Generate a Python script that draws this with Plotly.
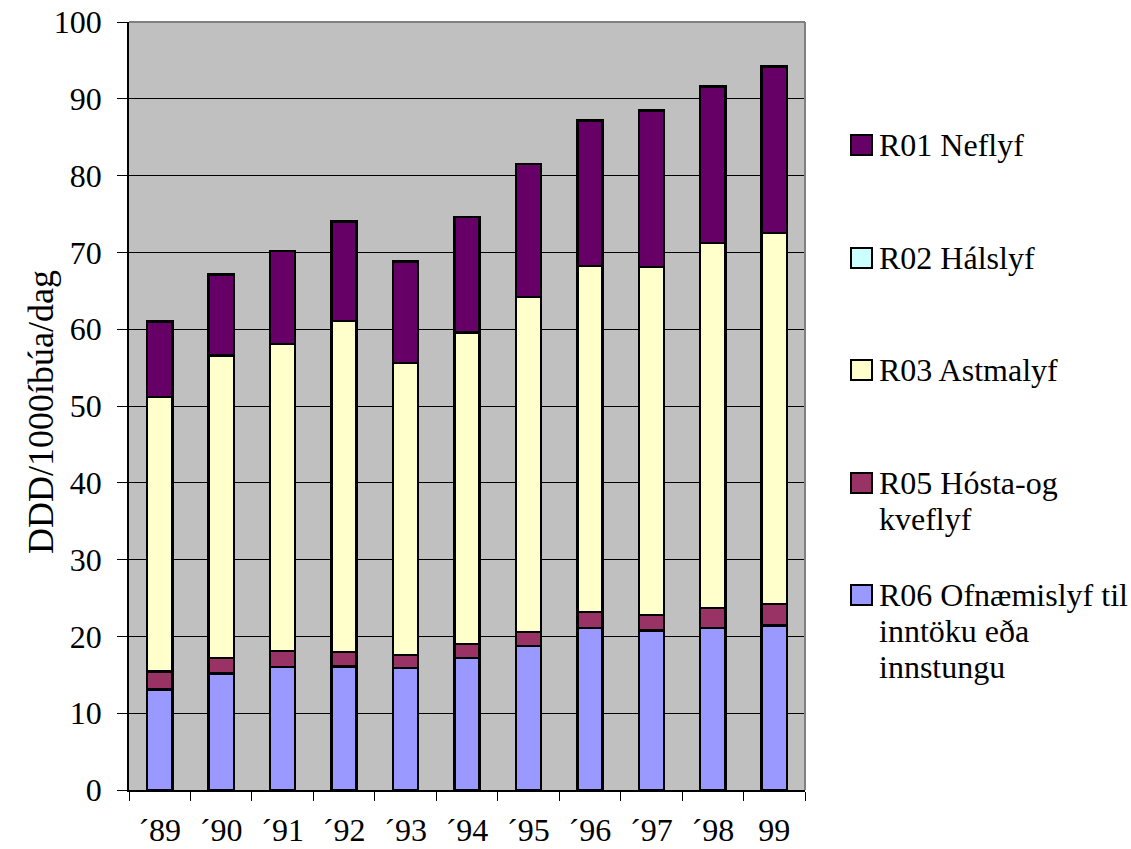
import plotly.graph_objects as go

# Respiratory drug use (DDD per 1000 inhabitants per day), stacked by ATC group
years = ["´89", "´90", "´91", "´92", "´93", "´94", "´95", "´96", "´97", "´98", "99"]
r06 = [13.1, 15.2, 16.0, 16.1, 15.9, 17.2, 18.75, 21.1, 20.8, 21.1, 21.4]
r05 = [2.3, 2.0, 2.1, 1.9, 1.7, 1.8, 1.85, 2.1, 2.0, 2.6, 2.8]
r03 = [35.8, 39.4, 40.0, 43.1, 38.0, 40.6, 43.6, 45.0, 45.3, 47.5, 48.3]
r02 = [0, 0, 0, 0, 0, 0, 0, 0, 0, 0, 0]
r01 = [9.8, 10.5, 12.1, 12.9, 13.2, 15.0, 17.3, 19.0, 20.4, 20.4, 21.7]

# series drawn bottom to top
series = [
    ("R06 Ofnæmislyf til inntöku eða innstungu", r06, "#9999FF"),
    ("R05 Hósta-og kveflyf", r05, "#993366"),
    ("R03 Astmalyf", r03, "#FFFFCC"),
    ("R02 Hálslyf", r02, "#CCFFFF"),
    ("R01 Neflyf", r01, "#660066"),
]

# legend entries top to bottom, wrapped as shown in the legend box
legend_lines = [
    (["R01 Neflyf"], "#660066"),
    (["R02 Hálslyf"], "#CCFFFF"),
    (["R03 Astmalyf"], "#FFFFCC"),
    (["R05 Hósta-og", "kveflyf"], "#993366"),
    (["R06 Ofnæmislyf til", "inntöku eða", "innstungu"], "#9999FF"),
]

FONT = "Liberation Serif, Times New Roman, serif"
FS = 32
W, H = 1131, 849
L, R, T, B = 129, 326, 22, 59
PW, PH = W - L - R, H - T - B

fig = go.Figure()
for name, vals, col in series:
    fig.add_trace(go.Bar(
        x=years, y=vals, name=name,
        marker=dict(color=col, line=dict(color="black", width=2.5)),
        showlegend=False,
    ))

def px_x(px):
    return (px - L) / PW

def px_y(py):
    return (H - B - py) / PH

shapes = [
    # grey frame on the top and right of the plot area
    dict(type="line", xref="paper", yref="paper", x0=0, x1=1, y0=1, y1=1,
         line=dict(color="#808080", width=2)),
    dict(type="line", xref="paper", yref="paper", x0=1, x1=1, y0=0, y1=1,
         line=dict(color="#808080", width=2)),
]
annotations = [
    dict(text="DDD/1000íbúa/dag", xref="paper", yref="paper",
         x=px_x(41), y=px_y(412), textangle=-90, showarrow=False,
         font=dict(family=FONT, size=36, color="black"),
         xanchor="center", yanchor="middle"),
]

item_y = [145, 258, 370, 483, 595]
line_h = 36
for (lines, col), yc in zip(legend_lines, item_y):
    shapes.append(dict(
        type="rect", xref="paper", yref="paper",
        x0=px_x(851), x1=px_x(872), y0=px_y(yc - 10), y1=px_y(yc + 10),
        fillcolor=col, line=dict(color="black", width=2),
    ))
    for i, t in enumerate(lines):
        annotations.append(dict(
            text=t, xref="paper", yref="paper",
            x=px_x(877), y=px_y(yc + i * line_h),
            showarrow=False, xanchor="left", yanchor="middle",
            font=dict(family=FONT, size=FS, color="black"),
        ))

fig.update_layout(
    width=W, height=H,
    margin=dict(l=L, r=R, t=T, b=B, pad=0, autoexpand=False),
    barmode="stack", bargap=0.59,
    plot_bgcolor="#C0C0C0", paper_bgcolor="white",
    font=dict(family=FONT, size=FS, color="black"),
    shapes=shapes, annotations=annotations,
    xaxis=dict(
        type="category", showline=True, linecolor="black", linewidth=1.5,
        ticks="outside", tickson="boundaries", ticklen=9, tickcolor="black",
        tickwidth=1, showgrid=False, ticklabelstandoff=11, automargin=False,
        tickfont=dict(family=FONT, size=FS, color="black"),
    ),
    yaxis=dict(
        range=[0, 100], dtick=10, tick0=0, showline=True, linecolor="black",
        linewidth=1.5, ticks="outside", ticklen=10, tickcolor="black",
        tickwidth=1, showgrid=True, gridcolor="black", gridwidth=1,
        zeroline=False, ticklabelstandoff=9, automargin=False,
        tickfont=dict(family=FONT, size=FS, color="black"),
    ),
)

fig.write_html("out.html")
